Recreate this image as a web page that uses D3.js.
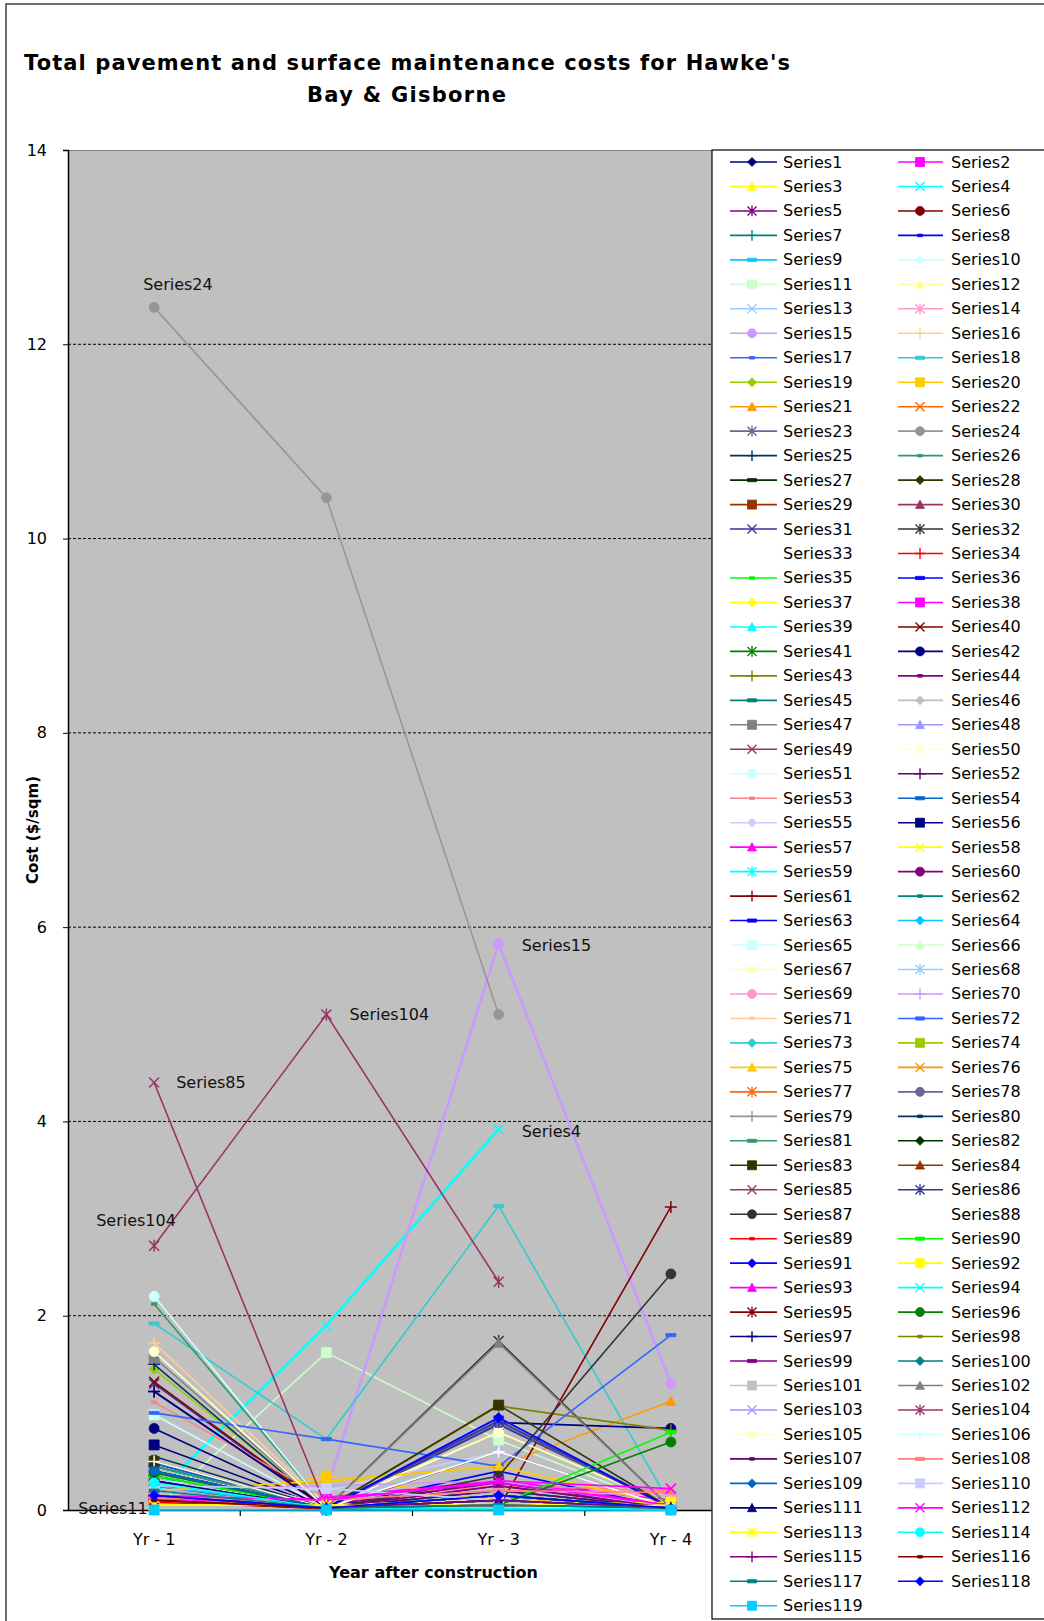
<!DOCTYPE html>
<html><head><meta charset="utf-8">
<script src="https://cdn.jsdelivr.net/npm/d3@7"></script>
<style>body{margin:0;background:#fff}svg{display:block}</style>
</head><body><svg id="c" width="1044" height="1621"></svg>
<script>
// ---------- DATA ----------
const categories = ["Yr - 1", "Yr - 2", "Yr - 3", "Yr - 4"];
const yTicks = [0, 2, 4, 6, 8, 10, 12, 14];
const seriesNames = d3.range(1, 120).map(i => "Series" + i);
// values per series: [Yr-1, Yr-2, Yr-3, Yr-4] in $/sqm (null = no value)
const seriesValues = [
 [0.45,0.02,0.95,0.02],[0.12,0.13,0.30,0.05],[0.05,0.10,0.05,0.10],[0.15,1.90,3.92,null],
 [0.20,0.02,0.25,0.02],[0.10,0.02,0.05,0.02],[0.35,0.01,0.20,0.02],[0.50,0.02,0.40,0.02],
 [0.30,0.02,0.05,0.00],[0.20,0.05,0.10,0.00],[0.00,1.62,0.72,0.02],[0.10,0.10,0.05,0.05],
 [0.15,0.05,0.60,0.02],[0.10,0.08,0.20,0.20],[0.25,0.20,5.83,1.30],[1.72,0.05,0.10,0.02],
 [0.48,0.02,0.10,0.02],[1.92,0.73,3.13,0.05],[1.45,0.02,0.05,0.02],[0.05,0.35,0.10,0.08],
 [0.10,0.30,0.45,1.12],[0.12,0.02,0.10,0.02],[0.30,0.02,0.20,0.02],[12.38,10.42,5.10,null],
 [1.50,0.00,0.05,0.01],[2.12,0.02,0.15,0.02],[0.35,0.02,0.30,0.01],[0.25,0.01,0.60,0.02],
 [0.15,0.02,0.05,0.02],[0.10,0.02,0.10,0.02],[1.30,0.01,0.88,0.03],[0.30,0.02,1.74,0.02],
 [0.20,0.02,0.80,0.05],[0.08,0.02,0.05,0.02],[0.35,0.02,0.15,0.02],[0.40,0.02,0.30,0.02],
 [0.05,0.05,0.02,0.08],[0.10,0.12,0.30,0.10],[0.30,0.02,0.02,0.00],[1.32,0.02,0.05,0.02],
 [0.40,0.02,0.10,0.02],[0.84,0.02,0.90,0.84],[0.30,0.02,1.07,0.82],[0.15,0.02,0.30,0.02],
 [0.40,0.02,0.20,0.02],[0.50,0.02,0.10,0.02],[1.57,0.02,0.10,0.02],[0.20,0.02,0.95,0.02],
 [0.20,0.02,0.10,0.02],[0.10,0.02,0.05,0.02],[2.20,0.02,0.10,0.02],[1.22,0.02,0.20,0.02],
 [1.11,0.12,0.25,0.20],[0.48,0.02,0.15,0.02],[0.30,0.20,0.60,0.02],[0.67,0.02,0.05,0.02],
 [0.15,0.10,0.30,0.05],[0.05,0.05,0.02,0.05],[0.10,0.02,0.02,0.02],[0.20,0.05,0.28,0.02],
 [0.10,0.01,0.02,3.12],[0.40,0.02,0.15,0.02],[0.45,0.02,0.15,0.02],[0.25,0.02,0.05,0.02],
 [0.98,0.02,0.10,0.00],[0.30,0.05,0.10,0.02],[0.50,0.05,0.80,0.05],[0.20,0.05,0.05,0.02],
 [0.15,0.10,0.20,0.15],[0.20,0.25,0.30,0.02],[0.50,0.05,0.10,0.02],[1.00,0.73,0.45,1.80],
 [0.45,0.02,0.10,0.02],[0.30,0.02,0.10,0.02],[0.20,0.30,0.45,0.05],[0.10,0.02,0.05,0.02],
 [0.10,0.02,0.05,0.02],[0.35,0.02,0.90,0.02],[0.40,0.02,0.10,0.02],[0.55,0.02,0.05,0.02],
 [0.45,0.02,0.15,0.02],[0.40,0.02,0.10,0.02],[0.50,0.02,1.08,0.02],[0.15,0.02,0.10,0.02],
 [4.40,0.02,0.05,0.02],[0.40,0.02,0.92,0.02],[0.30,0.01,0.35,2.43],[0.50,0.02,0.60,0.02],
 [0.10,0.02,0.05,0.02],[0.35,0.02,0.05,0.80],[0.30,0.02,0.95,0.02],[0.05,0.05,0.05,0.08],
 [0.10,0.12,0.28,0.05],[0.15,0.02,0.02,0.02],[0.10,0.02,0.05,0.02],[0.38,0.02,0.05,0.70],
 [1.22,0.02,0.10,0.02],[0.20,0.02,0.10,0.02],[0.20,0.02,0.25,0.02],[0.40,0.02,0.15,0.02],
 [0.20,0.02,0.05,0.02],[0.30,0.02,1.72,0.02],[0.20,0.02,0.05,0.02],[2.72,5.10,2.35,null],
 [1.63,0.02,0.10,0.02],[0.20,0.02,0.05,0.02],[0.15,0.02,0.10,0.02],[0.12,0.10,0.20,0.18],
 [0.40,0.02,0.15,0.02],[0.25,0.22,0.10,0.02],[0.30,0.02,0.10,0.02],[0.15,0.10,0.30,0.22],
 [0.05,0.05,0.02,0.05],[0.28,0.02,0.02,0.00],[0.15,0.02,0.10,0.02],[0.10,0.02,0.05,0.02],
 [0.20,0.02,0.05,0.02],[0.15,0.02,0.15,0.02],[0.00,0.00,0.00,0.00]
];
// data labels: series number and category index
const labelSeries = [24, 104, 85, 104, 15, 4, 11];
const labelCats = [0, 0, 0, 1, 2, 2, 0];

// ---------- STYLE ----------
const paletteA = ["#000080","#FF00FF","#FFFF00","#00FFFF","#800080","#800000","#008080","#0000FF",
 "#00CCFF","#CCFFFF","#CCFFCC","#FFFF99","#99CCFF","#FF99CC","#CC99FF","#FFCC99",
 "#3366FF","#33CCCC","#99CC00","#FFCC00","#FF9900","#FF6600","#666699","#969696",
 "#003366","#339966","#003300","#333300","#993300","#993366","#333399","#333333"];
const paletteB = ["#FFFFFF","#FF0000","#00FF00","#0000FF","#FFFF00","#FF00FF","#00FFFF","#800000",
 "#008000","#000080","#808000","#800080","#008080","#C0C0C0","#808080","#9999FF",
 "#993366","#FFFFCC","#CCFFFF","#660066","#FF8080","#0066CC","#CCCCFF"];
const markerCycle = ["diamond","square","triangle","x","star","circle","plus","dashS","dashL"];
const thickSeries = [4, 15];
function colorOf(i){ // i: 1-based
  if (i <= 32) return paletteA[i-1];
  const j = (i - 33) % 55;
  return j < 23 ? paletteB[j] : paletteA[j-23];
}
const labelOffsets = [[-11,-23],[-58,-25],[22,0],[23,0],[23,2],[23,2],[-76,-2]];

function markerPath(t, s){
  switch(t){
    case "diamond": return `M0,${-s}L${s},0L0,${s}L${-s},0Z`;
    case "square": return `M${-s},${-s}H${s}V${s}H${-s}Z`;
    case "triangle": return `M0,${-s}L${s},${s*0.85}L${-s},${s*0.85}Z`;
    case "x": return `M${-s},${-s}L${s},${s}M${-s},${s}L${s},${-s}`;
    case "star": return `M${-s},${-s}L${s},${s}M${-s},${s}L${s},${-s}M0,${-s*1.2}V${s*1.2}`;
    case "circle": return `M${-s},0A${s},${s} 0 1,0 ${s},0A${s},${s} 0 1,0 ${-s},0Z`;
    case "plus": return `M${-s*1.2},0H${s*1.2}M0,${-s*1.2}V${s*1.2}`;
    case "dashS": return `M${-s*0.55},-1.3H${s*0.55}V1.3H${-s*0.55}Z`;
    case "dashL": return `M${-s},-1.6H${s}V1.6H${-s}Z`;
  }
}
const strokeOnly = t => t === "x" || t === "star" || t === "plus";

// ---------- CHART ----------
const svg = d3.select("#c");
const font = "'DejaVu Sans', Verdana, sans-serif";
svg.append("rect").attr("width",1044).attr("height",1621).attr("fill","#fff");
svg.append("rect").attr("x",6).attr("y",4).attr("width",1100).attr("height",1700)
  .attr("fill","none").attr("stroke","#404040").attr("stroke-width",1.5);

const P = {left:68, right:757, top:150, bottom:1510};
const x = d3.scaleBand().domain(categories).range([P.left, P.right]).paddingInner(0).paddingOuter(0);
const cx = c => x(c) + x.bandwidth()/2;
const y = d3.scaleLinear().domain([0,14]).range([P.bottom, P.top]);

svg.append("rect").attr("x",P.left).attr("y",P.top).attr("width",P.right-P.left).attr("height",P.bottom-P.top)
  .attr("fill","#C0C0C0");
svg.append("line").attr("x1",P.left).attr("x2",P.right).attr("y1",P.top+0.5).attr("y2",P.top+0.5)
  .attr("stroke","#808080").attr("stroke-width",1.2);
svg.append("g").selectAll("line").data(yTicks.filter(v => v > 0 && v < 14)).join("line")
  .attr("x1",P.left).attr("x2",P.right).attr("y1",d=>y(d)).attr("y2",d=>y(d))
  .attr("stroke","#000").attr("stroke-width",1).attr("stroke-dasharray","3,2");

const gy = svg.append("g").attr("transform",`translate(${P.left},0)`)
  .call(d3.axisLeft(y).tickValues(yTicks).tickFormat(d3.format("d")).tickSize(5).tickPadding(16));
gy.select(".domain").attr("stroke","#000").attr("stroke-width",1.5);
gy.selectAll("text").attr("font-family",font).attr("font-size",16).attr("fill","#000");
const gx = svg.append("g").attr("transform",`translate(0,${P.bottom})`)
  .call(d3.axisBottom(x).tickSize(0).tickPadding(24));
gx.select(".domain").attr("stroke","#000").attr("stroke-width",1.5);
gx.selectAll("text").attr("font-family",font).attr("font-size",16).attr("fill","#000");
gx.selectAll(".tick line").remove();
svg.append("g").selectAll("line").data(categories.slice(1)).join("line")
  .attr("x1",d=>x(d)).attr("x2",d=>x(d)).attr("y1",P.bottom).attr("y2",P.bottom+6)
  .attr("stroke","#000").attr("stroke-width",1.2);

const line = d3.line().defined(d => d.v !== null).x(d => cx(d.c)).y(d => y(d.v));
const gs = svg.append("g");
seriesValues.forEach((vals, k) => {
  const i = k + 1, col = colorOf(i), mt = markerCycle[k % 9];
  const pts = vals.map((v, j) => ({c: categories[j], v}));
  const g = gs.append("g");
  g.append("path").datum(pts).attr("d", line).attr("fill","none").attr("stroke",col)
    .attr("stroke-width", thickSeries.includes(i) ? 2.6 : 1.6);
  g.selectAll("path.m").data(pts.filter(d => d.v !== null)).join("path").attr("class","m")
    .attr("transform", d => `translate(${cx(d.c)},${y(d.v)})`)
    .attr("d", markerPath(mt, 5))
    .attr("fill", strokeOnly(mt) ? "none" : col)
    .attr("stroke", col).attr("stroke-width", strokeOnly(mt) ? 1.5 : 0.8);
});

svg.append("g").selectAll("text").data(labelSeries).join("text")
  .attr("x",(s,n)=>cx(categories[labelCats[n]]) + labelOffsets[n][0])
  .attr("y",(s,n)=>y(seriesValues[s-1][labelCats[n]]) + labelOffsets[n][1])
  .attr("dominant-baseline","central")
  .attr("font-family",font).attr("font-size",16).attr("fill","#111")
  .text(s => seriesNames[s-1]);

const L = {x:712, y:150};
svg.append("rect").attr("x",L.x).attr("y",L.y).attr("width",400).attr("height",1469)
  .attr("fill","#fff").attr("stroke","#000").attr("stroke-width",1.2);
const colX = [{l0:730,l1:777,m:752,t:783},{l0:898,l1:943,m:920,t:951}];
const lg = svg.append("g").selectAll("g").data(seriesNames).join("g")
  .attr("transform",(d,k)=>`translate(0,${162 + Math.floor(k/2)*24.47})`);
lg.each(function(name, k){
  const g = d3.select(this), c = colX[k%2], col = colorOf(k+1), mt = markerCycle[k%9];
  g.append("line").attr("x1",c.l0).attr("x2",c.l1).attr("stroke",col).attr("stroke-width",1.6);
  g.append("path").attr("transform",`translate(${c.m},0)`).attr("d",markerPath(mt,4.5))
    .attr("fill", strokeOnly(mt) ? "none" : col).attr("stroke",col)
    .attr("stroke-width", strokeOnly(mt) ? 1.4 : 0.8);
  g.append("text").attr("x",c.t).attr("dominant-baseline","central")
    .attr("font-family",font).attr("font-size",16).attr("fill","#000").text(name);
});

const tfont = "'DejaVu Sans', Verdana, sans-serif";
svg.append("text").attr("x",24).attr("y",70).attr("font-family",tfont).attr("font-weight","bold")
  .attr("font-size",21).attr("textLength",766).attr("lengthAdjust","spacing")
  .text("Total pavement and surface maintenance costs for Hawke's");
svg.append("text").attr("x",307).attr("y",102).attr("font-family",tfont).attr("font-weight","bold")
  .attr("font-size",21).attr("textLength",199).attr("lengthAdjust","spacing")
  .text("Bay & Gisborne");
svg.append("text").attr("transform","translate(38,830) rotate(-90)").attr("text-anchor","middle")
  .attr("font-family",tfont).attr("font-weight","bold").attr("font-size",15)
  .attr("textLength",108).attr("lengthAdjust","spacing")
  .text("Cost ($/sqm)");
svg.append("text").attr("x",329).attr("y",1578).attr("font-family",tfont).attr("font-weight","bold")
  .attr("font-size",16).attr("textLength",209).attr("lengthAdjust","spacing")
  .text("Year after construction");
</script></body></html>
